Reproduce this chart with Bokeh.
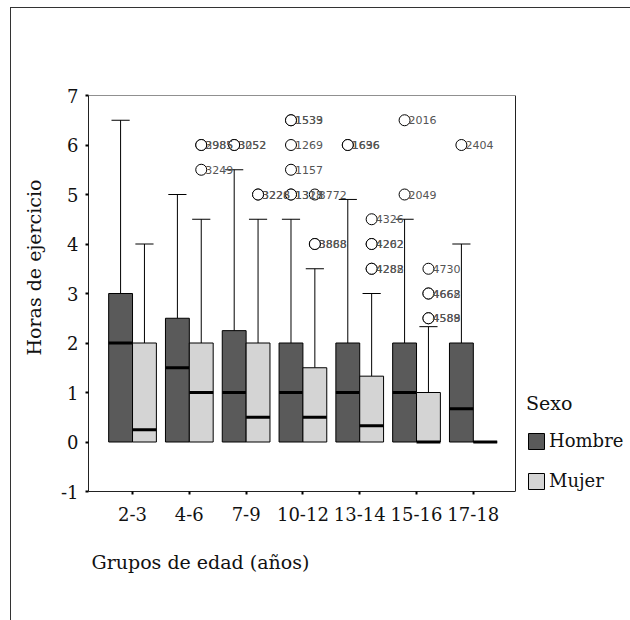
from bokeh.plotting import figure
from bokeh.models import Range1d, FixedTicker, Legend, LegendItem, ColumnDataSource, Title, InlineStyleSheet
from bokeh.core.properties import value
from bokeh.embed import file_html
from bokeh.resources import INLINE

# ---------------- data ----------------
groups = ["2-3", "4-6", "7-9", "10-12", "13-14", "15-16", "17-18"]
y_ticks = [-1, 0, 1, 2, 3, 4, 5, 6, 7]

hombre_q1 = [0, 0, 0, 0, 0, 0, 0]
hombre_median = [2, 1.5, 1, 1, 1, 1, 0.67]
hombre_q3 = [3, 2.5, 2.25, 2, 2, 2, 2]
hombre_upper = [6.5, 5, 5.5, 4.5, 4.9, 4.5, 4]

mujer_q1 = [0, 0, 0, 0, 0, 0, 0]
mujer_median = [0.25, 1, 0.5, 0.5, 0.33, 0, 0]
mujer_q3 = [2, 2, 2, 1.5, 1.33, 1, 0]
mujer_upper = [4, 4.5, 4.5, 3.5, 3, 2.33, 0]

out_sex = ["M", "M", "M",
           "H", "H", "M", "M",
           "H", "H", "H", "H", "H", "H", "M", "M", "M",
           "H", "H", "M", "M", "M", "M", "M",
           "H", "H", "M", "M", "M", "M", "M",
           "H"]
out_group = [1, 1, 1,
             2, 2, 2, 2,
             3, 3, 3, 3, 3, 3, 3, 3, 3,
             4, 4, 4, 4, 4, 4, 4,
             5, 5, 5, 5, 5, 5, 5,
             6]
out_value = [6.0, 6.0, 5.5,
             6.0, 6.0, 5.0, 5.0,
             6.5, 6.5, 6.0, 5.5, 5.0, 5.0, 5.0, 4.0, 4.0,
             6.0, 6.0, 4.5, 4.0, 4.0, 3.5, 3.5,
             6.5, 5.0, 3.5, 3.0, 3.0, 2.5, 2.5,
             6.0]
out_label = ["2985", "3985", "3249",
             "3052", "3252", "3226", "3228",
             "1533", "1539", "1269", "1157", "1318", "1323", "3772", "3868", "3888",
             "1636", "1696", "4326", "4202", "4262", "4282", "4288",
             "2016", "2049", "4730", "4662", "4668", "4588", "4589",
             "2404"]

# ---------------- layout ----------------
W, H = 630, 620
LEFT, TOP, BOTTOM = 88, 95, 129
BOX_RIGHT_PX = 515          # right edge of the plotting box
X0 = -0.775
PX_PER_X = 56.8
X1 = X0 + (W - LEFT) / PX_PER_X          # frame reaches the canvas edge (room for legend)
XB = X0 + (BOX_RIGHT_PX - LEFT) / PX_PER_X
Y0, Y1 = -1, 7

SERIF = "DejaVu Serif"
HCOL = "#5a5a5a"
MCOL = "#d4d4d4"
OFF = 0.21
BW = 0.42
CAP = 0.16

p = figure(width=W, height=H, x_range=Range1d(X0, X1), y_range=Range1d(Y0, Y1),
           output_backend="svg", toolbar_location=None, title=None,
           min_border_left=LEFT, min_border_right=0,
           min_border_top=TOP, min_border_bottom=BOTTOM)
p.grid.visible = False
p.outline_line_color = None
p.background_fill_color = "white"
p.border_fill_alpha = 0
# outer page frame (left and top lines) drawn as the host element's background
p.stylesheets = [InlineStyleSheet(css=(
    ":host { background-color: white;"
    " background-image: linear-gradient(#333333, #333333), linear-gradient(#333333, #333333);"
    " background-size: 1px 100%, 100% 1px;"
    " background-position: 10px 7px, 10px 7px;"
    " background-repeat: no-repeat; }"))]

# top and right edges of the plotting box
p.segment(x0=[X0, XB], y0=[Y1, Y0], x1=[XB, XB], y1=[Y1, Y1], line_color="#222222", line_width=1)


def draw(series_x, q1, med, q3, upper, color):
    src = ColumnDataSource(dict(x=series_x, q1=q1, med=med, q3=q3, up=upper,
                                cl=[v - CAP for v in series_x], cr=[v + CAP for v in series_x],
                                ml=[v - BW / 2 for v in series_x], mr=[v + BW / 2 for v in series_x]))
    p.segment(x0="x", y0="q3", x1="x", y1="up", source=src, line_color="black", line_width=1)
    p.segment(x0="cl", y0="up", x1="cr", y1="up", source=src, line_color="black", line_width=1)
    r = p.vbar(x="x", width=BW, bottom="q1", top="q3", source=src, fill_color=color,
               line_color="black", line_width=1)
    p.segment(x0="ml", y0="med", x1="mr", y1="med", source=src, line_color="black", line_width=3)
    return r


hx = [i - OFF for i in range(len(groups))]
mx = [i + OFF for i in range(len(groups))]
rh = draw(hx, hombre_q1, hombre_median, hombre_q3, hombre_upper, HCOL)
rm = draw(mx, mujer_q1, mujer_median, mujer_q3, mujer_upper, MCOL)

ox = [g - OFF if s == "H" else g + OFF for g, s in zip(out_group, out_sex)]
osrc = ColumnDataSource(dict(x=ox, y=out_value, t=out_label))
p.scatter(x="x", y="y", source=osrc, marker="circle", size=11, fill_color="white",
          line_color="black", line_width=1)
p.text(x="x", y="y", text="t", source=osrc, x_offset=4, text_baseline="middle",
       text_align="left", text_font=value("DejaVu Sans"), text_font_size="11px",
       text_color="#555555")

# axes
p.xaxis.ticker = FixedTicker(ticks=list(range(len(groups))))
p.xaxis.major_label_overrides = {i: g for i, g in enumerate(groups)}
p.xaxis.bounds = (X0, XB)
p.yaxis.ticker = FixedTicker(ticks=y_ticks)
p.yaxis.major_label_overrides = {t: str(t) for t in y_ticks}
for ax in (p.xaxis, p.yaxis):
    ax.axis_line_color = "#222222"
    ax.major_tick_line_color = "black"
    ax.major_tick_line_width = 2
    ax.major_tick_in = 0
    ax.major_tick_out = 3
    ax.minor_tick_line_color = None
    ax.major_label_text_font = SERIF
    ax.major_label_text_font_size = "18px"
    ax.major_label_text_color = "#111111"
p.xaxis.major_label_standoff = 12
p.yaxis.major_label_standoff = 7

ytitle = Title(text="Horas de ejercicio", align="left", offset=136, standoff=25,
               text_font=SERIF, text_font_size="19px", text_font_style="normal",
               text_color="#111111")
p.add_layout(ytitle, "left")
xtitle = Title(text="Grupos de edad (años)", align="left", offset=3, standoff=51,
               text_font=SERIF, text_font_size="19px", text_font_style="normal",
               text_color="#111111")
p.add_layout(xtitle, "below")

legend = Legend(items=[LegendItem(label="Hombre", renderers=[rh]),
                       LegendItem(label="Mujer", renderers=[rm])],
                title="Sexo", location=(526 - LEFT, 0), orientation="vertical")
legend.title_text_font = SERIF
legend.title_text_font_size = "19px"
legend.title_text_font_style = "normal"
legend.title_text_color = "#111111"
legend.title_standoff = 16
legend.label_text_font = SERIF
legend.label_text_font_size = "18px"
legend.label_text_color = "#111111"
legend.glyph_width = 20
legend.glyph_height = 20
legend.label_height = 20
legend.label_standoff = 3
legend.spacing = 19
legend.padding = 0
legend.margin = 0
legend.border_line_color = None
legend.background_fill_alpha = 0
p.add_layout(legend)

open("out.html", "w").write(file_html(p, INLINE))
